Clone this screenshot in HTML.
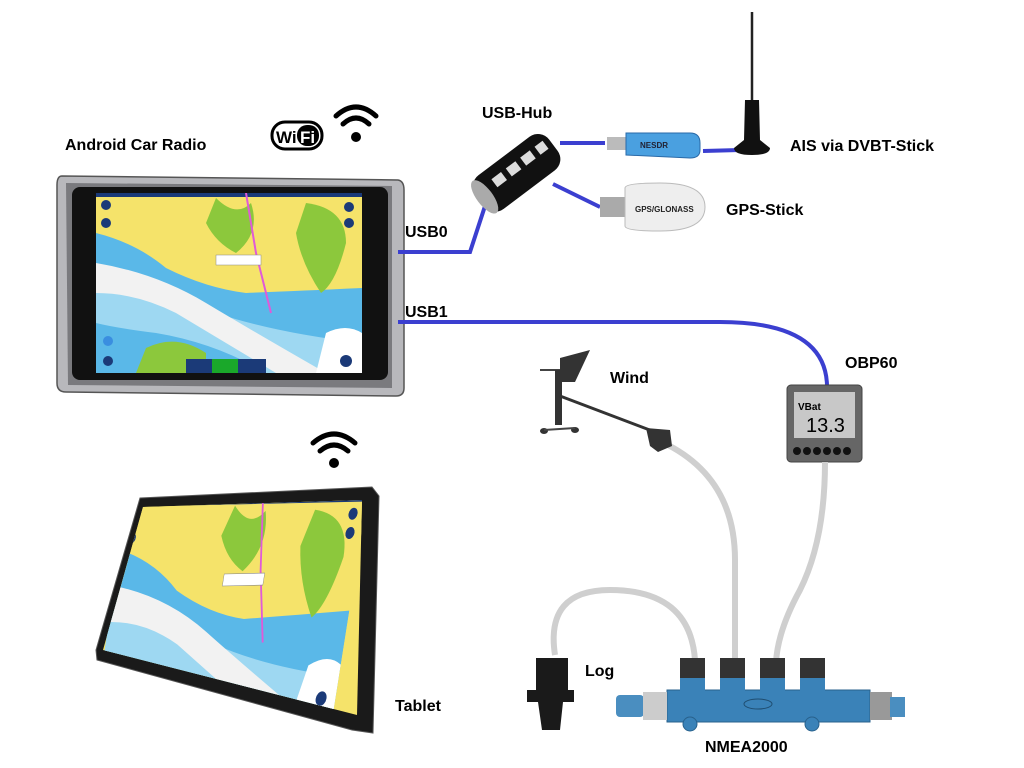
<!DOCTYPE html>
<html><head><meta charset="utf-8"><style>
html,body{margin:0;padding:0;background:#fff;}
svg{display:block;}
text{font-family:"Liberation Sans",sans-serif;font-weight:bold;font-size:16px;fill:#000;}
</style></head><body>
<svg width="1024" height="768" viewBox="0 0 1024 768" xmlns="http://www.w3.org/2000/svg">
<defs>
<symbol id="map" viewBox="0 0 266 180">
  <rect width="266" height="180" fill="#f5e36a"/>
  <rect width="266" height="4" fill="#1b3a78"/>
  <path d="M0 40 Q40 50 70 75 Q110 95 150 100 Q200 98 266 95 L266 180 L0 180Z" fill="#5ab8e8"/>
  <path d="M0 90 Q60 100 120 120 Q180 140 266 150 L266 180 L170 180 Q120 150 60 140 Q20 135 0 130Z" fill="#9ed8f2"/>
  <path d="M0 70 Q60 80 110 110 Q160 140 230 180 L180 180 Q130 150 80 120 Q40 100 0 100Z" fill="#f2f2f2"/>
  <path d="M120 5 Q140 25 155 10 Q165 40 140 60 Q120 50 110 30Z" fill="#8cc83c"/>
  <path d="M210 10 Q250 15 250 50 Q240 90 225 100 Q205 70 200 40Z" fill="#8cc83c"/>
  <path d="M50 155 Q80 140 110 160 L110 180 L40 180Z" fill="#8cc83c"/>
  <path d="M230 140 Q250 130 266 140 L266 180 L220 180Z" fill="#fff"/>
  <path d="M150 0 L160 60 L175 120" stroke="#e05ad8" stroke-width="2" fill="none"/>
  <rect x="120" y="62" width="45" height="10" fill="#fff" stroke="#888" stroke-width="0.5"/>
  <circle cx="10" cy="12" r="5" fill="#1b3a78"/><circle cx="10" cy="30" r="5" fill="#1b3a78"/>
  <circle cx="253" cy="14" r="5" fill="#1b3a78"/><circle cx="253" cy="30" r="5" fill="#1b3a78"/>
  <circle cx="12" cy="148" r="5" fill="#3a8ee0"/><circle cx="12" cy="168" r="5" fill="#1b3a78"/>
  <circle cx="250" cy="168" r="6" fill="#1b3a78"/>
  <rect x="90" y="166" width="26" height="14" fill="#1b3a78"/>
  <rect x="116" y="166" width="26" height="14" fill="#1aa82a"/>
  <rect x="142" y="166" width="28" height="14" fill="#1b3a78"/>
</symbol>
<clipPath id="tabclip"><polygon points="143,507 362,500 357,715 103,650"/></clipPath>
</defs>

<!-- Car radio -->
<path d="M62 176 L398 180 Q404 181 404 190 L404 388 Q404 396 396 396 L66 392 Q57 392 57 383 L57 185 Q57 176 62 176Z" fill="#b8b8bc" stroke="#555" stroke-width="1.5"/>
<path d="M66 183 L392 186 L392 388 L68 385Z" fill="#7a7a7e"/>
<rect x="72" y="187" width="316" height="193" rx="8" fill="#111"/>
<use href="#map" x="96" y="193" width="266" height="180"/>
<text x="65" y="150">Android Car Radio</text>

<!-- WiFi logo -->
<rect x="272" y="122" width="50" height="27" rx="13" fill="#fff" stroke="#000" stroke-width="3"/>
<text x="276" y="143" style="font-size:17px">Wi</text>
<rect x="297" y="125" width="22" height="21" rx="10" fill="#000"/>
<text x="300" y="143" style="font-size:17px;fill:#fff">Fi</text>
<g fill="none" stroke="#000" stroke-width="5" stroke-linecap="round">
<path d="M336 116 Q356 98 376 116"/><path d="M343 124 Q356 112 369 124"/>
</g><circle cx="356" cy="137" r="5" fill="#000"/>
<g fill="none" stroke="#000" stroke-width="5" stroke-linecap="round">
<path d="M313 443 Q334 425 355 443"/><path d="M320 451 Q334 439 348 451"/>
</g><circle cx="334" cy="463" r="5" fill="#000"/>

<!-- Blue cables -->
<g fill="none" stroke="#3b3fd0" stroke-width="4">
<path d="M398 252 L470 252 L486 203"/>
<path d="M560 143 L605 143"/>
<path d="M703 151 L740 150"/>
<path d="M553 184 L600 207"/>
<path d="M398 322 L720 322 Q825 322 827 385"/>
</g>
<text x="405" y="237">USB0</text>
<text x="405" y="317">USB1</text>

<!-- USB hub -->
<text x="482" y="118">USB-Hub</text>
<g transform="rotate(-37 517 175)">
<rect x="472" y="152" width="92" height="42" rx="14" fill="#111"/>
<ellipse cx="478" cy="173" rx="8" ry="20" fill="#aaa"/>
<rect x="494" y="163" width="12" height="10" fill="#ddd"/><rect x="512" y="163" width="12" height="10" fill="#ddd"/>
<rect x="530" y="163" width="12" height="10" fill="#ddd"/><rect x="548" y="163" width="10" height="10" fill="#ddd"/>
</g>

<!-- AIS stick -->
<rect x="607" y="137" width="22" height="13" fill="#bbb"/>
<path d="M626 133 L690 133 Q700 133 700 143 L700 150 Q700 158 690 158 L626 155Z" fill="#4aa0e0" stroke="#2a6aa8"/>
<text x="640" y="148" style="font-size:8px;fill:#223">NESDR</text>
<!-- antenna -->
<line x1="752" y1="12" x2="752" y2="140" stroke="#222" stroke-width="2.5"/>
<path d="M745 100 L759 100 L760 140 L770 148 Q770 155 752 155 Q734 155 734 148 L744 140Z" fill="#111"/>
<text x="790" y="151">AIS via DVBT-Stick</text>

<!-- GPS stick -->
<rect x="600" y="197" width="30" height="20" fill="#aaa"/>
<path d="M625 188 Q625 183 660 183 Q705 183 705 207 Q705 231 660 231 Q625 231 625 226Z" fill="#eee" stroke="#bbb"/>
<text x="635" y="212" style="font-size:8px;fill:#222">GPS/GLONASS</text>
<text x="726" y="215">GPS-Stick</text>

<!-- OBP60 -->
<text x="845" y="368">OBP60</text>
<rect x="787" y="385" width="75" height="77" rx="4" fill="#666" stroke="#444"/>
<rect x="794" y="392" width="61" height="46" fill="#c8c8c8"/>
<text x="798" y="410" style="font-size:10px">VBat</text>
<text x="806" y="432" style="font-size:20px;font-weight:normal">13.3</text>
<g fill="#111"><circle cx="797" cy="451" r="4"/><circle cx="807" cy="451" r="4"/><circle cx="817" cy="451" r="4"/><circle cx="827" cy="451" r="4"/><circle cx="837" cy="451" r="4"/><circle cx="847" cy="451" r="4"/></g>

<!-- gray cables -->
<g fill="none" stroke="#cfcfcf" stroke-width="6">
<path d="M668 445 Q735 480 735 560 L735 660"/>
<path d="M825 462 Q825 540 800 590 Q778 630 776 662"/>
<path d="M555 655 Q545 590 610 590 Q690 590 695 660"/>
</g>

<!-- wind sensor -->
<text x="610" y="383">Wind</text>
<path d="M560 358 L590 350 L575 382 L560 382Z" fill="#333"/>
<line x1="540" y1="370" x2="560" y2="370" stroke="#444" stroke-width="2"/>
<rect x="555" y="370" width="7" height="55" fill="#333"/>
<path d="M560 396 L655 432" stroke="#333" stroke-width="3"/>
<path d="M646 428 L670 430 L672 446 L658 452 L650 446Z" fill="#333"/>
<ellipse cx="544" cy="431" rx="4" ry="3" fill="#333"/><ellipse cx="575" cy="430" rx="4" ry="3" fill="#333"/>
<line x1="544" y1="430" x2="575" y2="428" stroke="#444" stroke-width="2"/>

<!-- Log -->
<text x="585" y="676">Log</text>
<path d="M536 658 L568 658 L568 690 L574 690 L574 702 L563 702 L560 730 L542 730 L538 702 L527 702 L527 690 L536 690Z" fill="#1a1a1a"/>

<!-- NMEA2000 -->
<g fill="#333"><rect x="680" y="658" width="25" height="20"/><rect x="720" y="658" width="25" height="20"/><rect x="760" y="658" width="25" height="20"/><rect x="800" y="658" width="25" height="20"/></g>
<path d="M667 690 L870 690 L870 722 L667 722Z" fill="#3a82b8" stroke="#28618c"/>
<path d="M680 678 L705 678 L705 692 L680 692Z M720 678 L745 678 L745 692 L720 692Z M760 678 L785 678 L785 692 L760 692Z M800 678 L825 678 L825 692 L800 692Z" fill="#3a82b8"/>
<rect x="616" y="695" width="28" height="22" rx="4" fill="#4a8ec0"/>
<rect x="643" y="692" width="24" height="28" fill="#ccc"/>
<rect x="870" y="692" width="22" height="28" fill="#999"/>
<rect x="890" y="697" width="15" height="20" fill="#4a8ec0"/>
<circle cx="690" cy="724" r="7" fill="#3a82b8" stroke="#28618c"/><circle cx="812" cy="724" r="7" fill="#3a82b8" stroke="#28618c"/>
<ellipse cx="758" cy="704" rx="14" ry="5" fill="none" stroke="#1f4d70"/>
<text x="705" y="752">NMEA2000</text>

<!-- Tablet -->
<polygon points="140,498 372,487 379,496 373,733 352,730 97,660 96,650" fill="#1a1a1a" stroke="#555"/>
<polygon points="143,507 362,500 357,715 103,650" fill="#f5e36a"/>
<g clip-path="url(#tabclip)">
<use href="#map" width="266" height="180" transform="matrix(0.9 -0.02 -0.19 1.2 128 502)"/>
</g>
<text x="395" y="711">Tablet</text>
</svg>
</body></html>
